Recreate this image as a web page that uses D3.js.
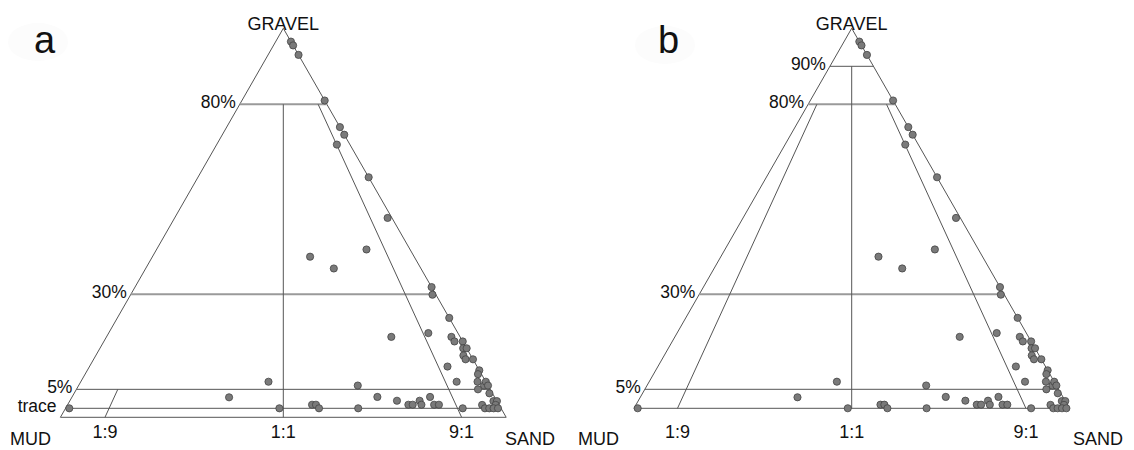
<!DOCTYPE html>
<html>
<head>
<meta charset="utf-8">
<script src="https://cdn.jsdelivr.net/npm/d3@7"></script>
<style>
  body { margin: 0; background: #fff; }
  svg text { font-family: "Liberation Sans", Arial, sans-serif; fill: #111; }
</style>
</head>
<body>
<div id="chart"></div>
<script>
// sample composition, percent (gravel 0.01 = trace)
const gravel = [96.5, 95.5, 93, 81, 74, 72, 69.4, 60.8, 50.1, 41.8, 39.9, 36.8,
  7, 2.9, 0.01, 0.95, 0.95, 0.01, 6, 0.01, 3, 2, 0.95, 0.95, 2, 0.95, 3, 0.95, 0.95,
  7, 0.01, 0.01,
  31.9, 29.9, 23.8, 18.8, 19.8, 18.8, 17.6, 17.6, 15.8, 15.8, 13.9, 12.9, 12.9, 11,
  10, 9, 7, 6, 7, 6, 5, 3.95, 0.9, 1.9, 1.9, 0.9, 0.01, 0.01, 0.01, 0.01];
const sand = [3.5, 4.5, 7, 19, 26, 28, 27.6, 39.2, 48.9, 48.2, 36.2, 43.2,
  43.1, 36.1, 49.1, 56.1, 57, 58.2, 64.1, 67.2, 70.1, 75.1, 78.2, 79.2, 80.3, 81.2, 82.2, 84.2, 85.3,
  86.3, 91.2, 0.85,
  68.1, 69.3, 76.2, 65.4, 73.4, 79.2, 80.5, 82.4, 83.4, 84.2, 84.4, 85.4, 87.1, 82.2,
  90, 90.2, 91.1, 93.1, 93, 94, 92.2, 95.4, 95.2, 97.3, 98.1, 98.3, 96.3, 97.3, 98.3, 99.3];
const mud = [0, 0, 0, 0, 0, 0, 3, 0, 1, 10, 23.9, 20,
  49.9, 61, 50.9, 42.9, 42, 41.8, 29.9, 32.8, 26.9, 22.9, 20.8, 19.8, 17.7, 17.8, 14.8, 14.9, 13.8,
  6.7, 8.8, 99.15,
  0, 0.8, 0, 15.8, 6.8, 2, 1.9, 0, 0.8, 0, 1.7, 1.7, 0, 6.8,
  0, 0.8, 1.9, 0.9, 0, 0, 2.8, 0.7, 3.9, 0.8, 0, 0.8, 3.7, 2.7, 1.7, 0.7];

// mud:sand ratio lines
const ratioValues = [0.1, 0.5, 0.9];
const ratioLabels = ["1:9", "1:1", "9:1"];

// gravel class boundaries drawn in each panel
const levelsA = [80, 30, 5, 0.01];
const levelLabelsA = ["80%", "30%", "5%", "trace"];
const levelsB = [90, 80, 30, 5];
const levelLabelsB = ["90%", "80%", "30%", "5%"];

const width = 1134, height = 450;
const topY = 28.3, zeroY = 408.3;
const slope = 0.573;   // half width per pixel below apex

const svg = d3.select("#chart").append("svg")
  .attr("width", width)
  .attr("height", height);

function drawPanel(opt) {
  const g = svg.append("g");
  const y = opt.yScale;
  const half = yy => (yy - topY) * slope;
  const xAt = (yy, s) => opt.cx - half(yy) + 2 * half(yy) * s;
  const baseY = y(0);

  // faint smudge behind the panel letter
  g.append("ellipse")
    .attr("cx", opt.blob[0]).attr("cy", opt.blob[1])
    .attr("rx", 30).attr("ry", 19)
    .attr("fill", "#fcfcfc");

  // triangle outline
  g.append("path")
    .attr("d", `M${xAt(baseY, 0)},${baseY}L${opt.cx},${topY}L${xAt(baseY, 1)},${baseY}Z`)
    .attr("fill", "none")
    .attr("stroke", "#555")
    .attr("stroke-width", 1);

  // horizontal gravel boundaries
  opt.levels.forEach((lv, i) => {
    const yy = y(lv);
    const light = lv === 80 || lv === 30;
    g.append("line")
      .attr("x1", xAt(yy, 0)).attr("x2", xAt(yy, 1))
      .attr("y1", yy).attr("y2", yy)
      .attr("stroke", light ? "#9a9a9a" : "#555")
      .attr("stroke-width", light ? 2 : 1);
    const label = opt.levelLabels[i];
    g.append("text")
      .attr("x", xAt(yy, 0) - (label === "trace" ? 9 : 4))
      .attr("y", yy + 3.5)
      .attr("text-anchor", "end")
      .attr("font-size", 17.5)
      .text(label);
  });

  // mud:sand ratio lines
  ratioValues.forEach((r, i) => {
    const yTop = y(opt.ratioTop[i]);
    g.append("line")
      .attr("x1", xAt(baseY, r)).attr("y1", baseY)
      .attr("x2", xAt(yTop, r)).attr("y2", yTop)
      .attr("stroke", "#555")
      .attr("stroke-width", 1);
    g.append("text")
      .attr("x", xAt(baseY, r))
      .attr("y", 438)
      .attr("text-anchor", "middle")
      .attr("font-size", 18)
      .text(ratioLabels[i]);
  });

  // samples
  g.selectAll("circle")
    .data(gravel.map((d, i) => ({ g: d, s: sand[i] / (sand[i] + mud[i]) })))
    .enter()
    .append("circle")
    .attr("cx", d => xAt(y(d.g), d.s))
    .attr("cy", d => y(d.g))
    .attr("r", 3.6)
    .attr("fill", "#7a7a7a")
    .attr("stroke", "#444")
    .attr("stroke-width", 0.8);

  // corner labels
  g.append("text").attr("x", opt.cx).attr("y", 30)
    .attr("text-anchor", "middle").attr("font-size", 18).text("GRAVEL");
  g.append("text").attr("x", opt.mudX).attr("y", 445)
    .attr("font-size", 18).text("MUD");
  g.append("text").attr("x", opt.sandX).attr("y", 445)
    .attr("font-size", 18).text("SAND");
  g.append("text").attr("x", opt.letterX).attr("y", 53)
    .attr("font-size", 38).text(opt.letter);
}

drawPanel({
  cx: 283.3,
  // trace band is stretched below the 0.01% line
  yScale: d3.scaleLinear().domain([0, 0.01, 100]).range([417.3, zeroY, topY]),
  levels: levelsA,
  levelLabels: levelLabelsA,
  ratioTop: [5, 80, 80],
  mudX: 10, sandX: 505,
  letter: "a", letterX: 34, blob: [38, 42]
});

drawPanel({
  cx: 851.7,
  yScale: d3.scaleLinear().domain([0, 100]).range([zeroY, topY]),
  levels: levelsB,
  levelLabels: levelLabelsB,
  ratioTop: [80, 90, 80],
  mudX: 578, sandX: 1073,
  letter: "b", letterX: 658, blob: [665, 45]
});
</script>
</body>
</html>
